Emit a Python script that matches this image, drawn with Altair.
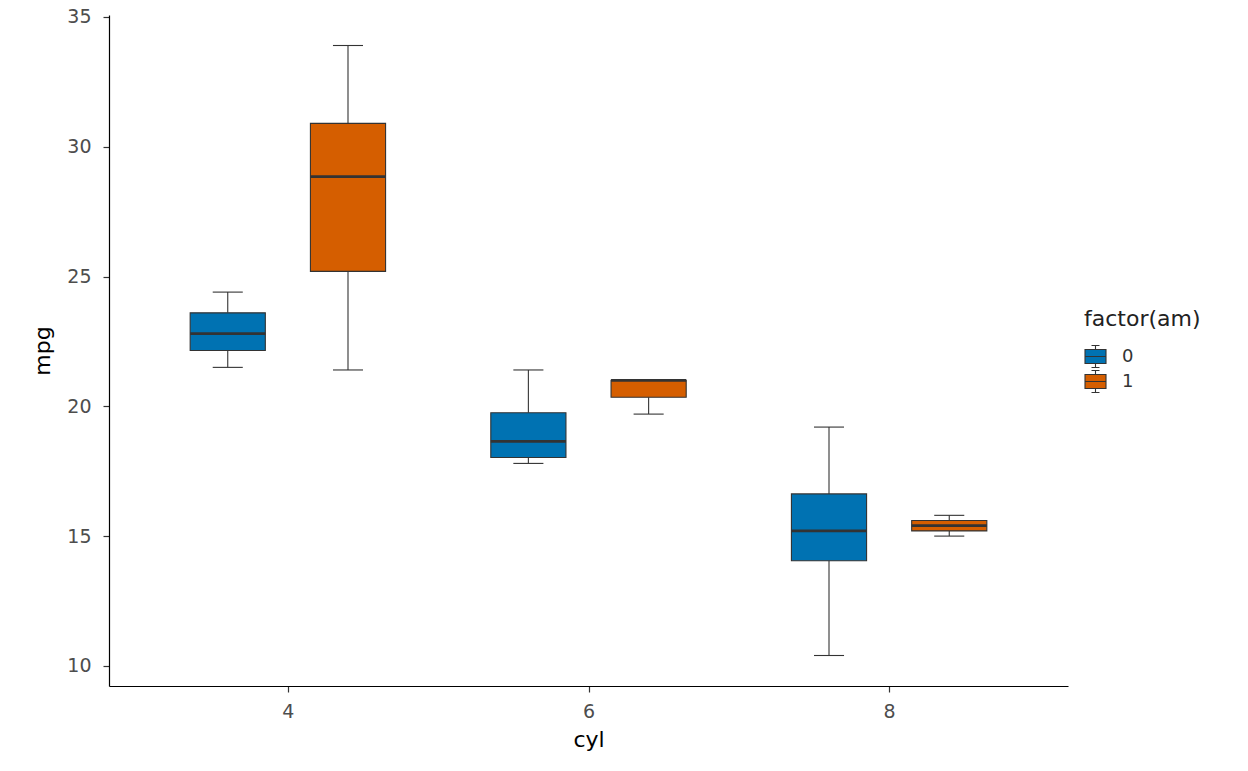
import altair as alt
import pandas as pd

# summary statistics (mtcars: mpg by cyl and am)
cyl = [4, 4, 6, 6, 8, 8]
am = ["0", "1", "0", "1", "0", "1"]
lower = [21.5, 21.4, 17.8, 19.7, 10.4, 15.0]
q1 = [22.15, 25.2, 18.025, 20.35, 14.05, 15.2]
median = [22.8, 28.85, 18.65, 21.0, 15.2, 15.4]
q3 = [23.6, 30.9, 19.75, 21.0, 16.625, 15.6]
upper = [24.4, 33.9, 21.4, 21.0, 19.2, 15.8]

x_ticks = [4, 6, 8]
y_ticks = [10, 15, 20, 25, 30, 35]
am_levels = ["0", "1"]
am_colors = ["#0072B2", "#D55E00"]

df = pd.DataFrame({"cyl": cyl, "am": am, "lower": lower, "q1": q1,
                   "median": median, "q3": q3, "upper": upper})

FONT = "DejaVu Sans"
DARK = "#333333"
TICK_FS = 19

xscale = alt.Scale(domain=[2.81, 9.19], nice=False, zero=False)
yscale = alt.Scale(domain=[9.225, 35.075], nice=False, zero=False)

xaxis = alt.Axis(values=x_ticks, format="d", title="cyl", grid=False,
                 domainColor="black", domainWidth=1.2, tickColor=DARK, tickWidth=1.2,
                 tickSize=6, labelFont=FONT, labelFontSize=TICK_FS, labelColor="#4D4D4D",
                 labelPadding=10, titleFont=FONT, titleFontSize=22, titleColor="black",
                 titleFontWeight="normal", titlePadding=8)
yaxis = alt.Axis(values=y_ticks, title="mpg", grid=False,
                 domainColor="black", domainWidth=1.2, tickColor=DARK, tickWidth=1.2,
                 tickSize=6, labelFont=FONT, labelFontSize=TICK_FS, labelColor="#4D4D4D",
                 labelPadding=12, titleFont=FONT, titleFontSize=22, titleColor="black",
                 titleFontWeight="normal", titlePadding=12)

base = alt.Chart(df).transform_calculate(
    xc="datum.cyl + (datum.am == '0' ? -0.4 : 0.4)"
).transform_calculate(
    xl="datum.xc - 0.25", xr="datum.xc + 0.25",
    cl="datum.xc - 0.1", cr="datum.xc + 0.1"
)

whisk_lo = base.mark_rule(color=DARK, strokeWidth=1.1).encode(
    x=alt.X("xc:Q", scale=xscale, axis=xaxis),
    y=alt.Y("lower:Q", scale=yscale, axis=yaxis),
    y2="q1:Q")
whisk_hi = base.mark_rule(color=DARK, strokeWidth=1.1).encode(
    x=alt.X("xc:Q", scale=xscale), y=alt.Y("q3:Q", scale=yscale), y2="upper:Q")
cap_lo = base.mark_rule(color=DARK, strokeWidth=1.1).encode(
    x=alt.X("cl:Q", scale=xscale), x2="cr:Q", y=alt.Y("lower:Q", scale=yscale))
cap_hi = base.mark_rule(color=DARK, strokeWidth=1.1).encode(
    x=alt.X("cl:Q", scale=xscale), x2="cr:Q", y=alt.Y("upper:Q", scale=yscale))

legend_path = ("M-1,-0.67H1V0.67H-1Z M0,-0.67V-1.05 M-0.38,-1.05H0.38 "
               "M0,0.67V1.05 M-0.38,1.05H0.38 M-1,0H1")

box = base.mark_rect(stroke=DARK, strokeWidth=1.1, opacity=1).encode(
    x=alt.X("xl:Q", scale=xscale), x2="xr:Q",
    y=alt.Y("q1:Q", scale=yscale), y2="q3:Q",
    fill=alt.Fill("am:N", scale=alt.Scale(domain=am_levels, range=am_colors),
                  legend=alt.Legend(title="factor(am)", orient="none",
                                    legendX=975, legendY=294,
                                    symbolType=legend_path, symbolSize=441,
                                    symbolStrokeColor=DARK, symbolStrokeWidth=1.1,
                                    symbolOpacity=1,
                                    titleFont=FONT, titleFontSize=22,
                                    titleFontWeight="normal", titleColor="#222222",
                                    titlePadding=14,
                                    labelFont=FONT, labelFontSize=18,
                                    labelColor="#333333", labelOffset=15,
                                    rowPadding=-2, padding=0)))
med = base.mark_rule(color=DARK, strokeWidth=2.8).encode(
    x=alt.X("xl:Q", scale=xscale), x2="xr:Q", y=alt.Y("median:Q", scale=yscale))

chart = alt.layer(whisk_lo, whisk_hi, cap_lo, cap_hi, box, med).properties(
    width=959, height=671,
    background="white",
    autosize=alt.AutoSizeParams(type="none"),
    padding={"left": 101, "top": 7, "right": 150, "bottom": 76},
).configure_view(strokeWidth=0, stroke=None)

chart.save("out.html", embed_options={"renderer": "svg", "actions": False})
